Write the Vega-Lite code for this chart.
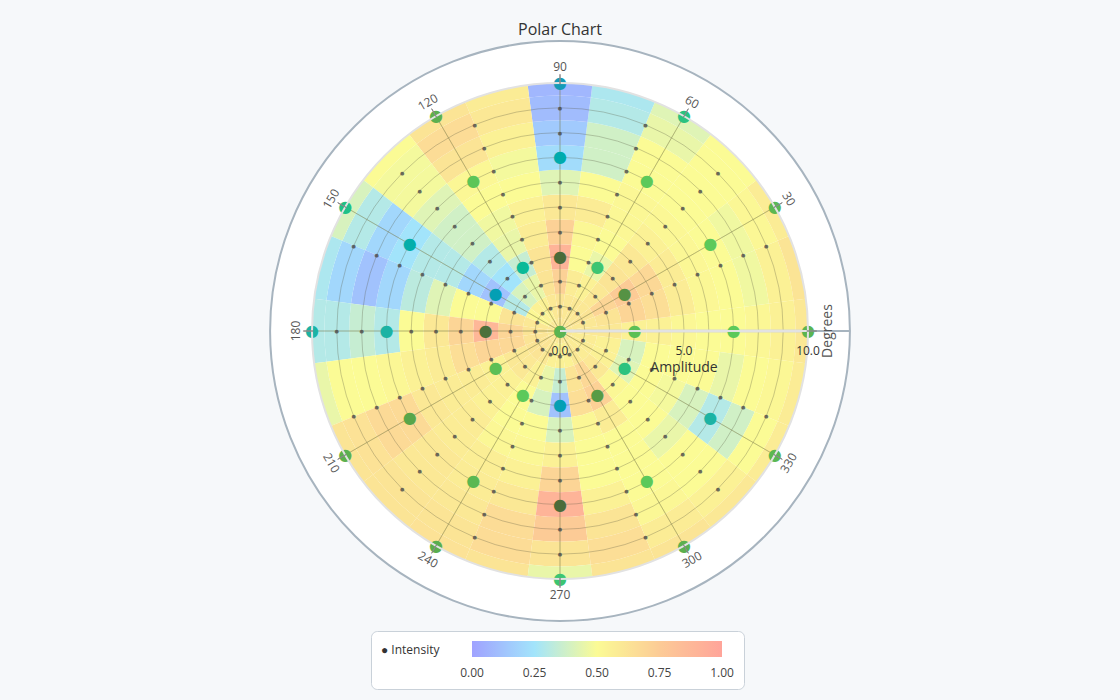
{
"$schema":"https://vega.github.io/schema/vega-lite/v6.json",
"width":1120,"height":580,
"autosize":{"type":"none"},
"padding":{"left":0,"right":0,"top":41,"bottom":79},
"background":"#f6f8fa",
"title":{"text":"Polar Chart","fontSize":16,"font":"Open Sans","fontWeight":"normal","color":"#333333","anchor":"middle","offset":-1},
"config":{"view":{"stroke":null},"font":"Open Sans"},
"datasets":{
"one":[{"k":1}],
"grid":[{"amp":1},{"amp":2},{"amp":3},{"amp":4},{"amp":5},{"amp":6},{"amp":7},{"amp":8},{"amp":9}],
"spokes":[{"deg":0},{"deg":30},{"deg":60},{"deg":90},{"deg":120},{"deg":150},{"deg":180},{"deg":210},{"deg":240},{"deg":270},{"deg":300},{"deg":330}],
"labelsTop":[{"deg":30,"label":"30"},{"deg":60,"label":"60"},{"deg":90,"label":"90"},{"deg":120,"label":"120"},{"deg":150,"label":"150"},{"deg":180,"label":"180"}],
"labelsBottom":[{"deg":210,"label":"210"},{"deg":240,"label":"240"},{"deg":270,"label":"270"},{"deg":300,"label":"300"},{"deg":330,"label":"330"}],
"radial":[{"amp":0,"label":"0.0"},{"amp":5,"label":"5.0"},{"amp":10,"label":"10.0"}],
"dots":[
{"deg":0,"amp":0,"v":0.6},
{"deg":0,"amp":3,"v":0.55},{"deg":0,"amp":7,"v":0.5},{"deg":0,"amp":10,"v":0.6},
{"deg":30,"amp":3,"v":0.75},{"deg":30,"amp":7,"v":0.5},{"deg":30,"amp":10,"v":0.58},
{"deg":60,"amp":3,"v":0.45},{"deg":60,"amp":7,"v":0.5},{"deg":60,"amp":10,"v":0.42},
{"deg":90,"amp":3,"v":0.9},{"deg":90,"amp":7,"v":0.22},{"deg":90,"amp":10,"v":0.08},
{"deg":120,"amp":3,"v":0.35},{"deg":120,"amp":7,"v":0.52},{"deg":120,"amp":10,"v":0.62},
{"deg":150,"amp":3,"v":0.12},{"deg":150,"amp":7,"v":0.25},{"deg":150,"amp":10,"v":0.4},
{"deg":180,"amp":3,"v":0.88},{"deg":180,"amp":7,"v":0.3},{"deg":180,"amp":10,"v":0.3},
{"deg":210,"amp":3,"v":0.55},{"deg":210,"amp":7,"v":0.67},{"deg":210,"amp":10,"v":0.62},
{"deg":240,"amp":3,"v":0.5},{"deg":240,"amp":7,"v":0.58},{"deg":240,"amp":10,"v":0.63},
{"deg":270,"amp":3,"v":0.12},{"deg":270,"amp":7,"v":0.9},{"deg":270,"amp":10,"v":0.45},
{"deg":300,"amp":3,"v":0.72},{"deg":300,"amp":7,"v":0.5},{"deg":300,"amp":10,"v":0.62},
{"deg":330,"amp":3,"v":0.42},{"deg":330,"amp":7,"v":0.3},{"deg":330,"amp":10,"v":0.58}
],
"small":[
{"deg":22.5,"amp":1},{"deg":22.5,"amp":2},{"deg":22.5,"amp":3},{"deg":22.5,"amp":4},{"deg":22.5,"amp":5},{"deg":22.5,"amp":6},{"deg":22.5,"amp":7},{"deg":22.5,"amp":8},{"deg":22.5,"amp":9},
{"deg":45,"amp":1},{"deg":45,"amp":2},{"deg":45,"amp":3},{"deg":45,"amp":4},{"deg":45,"amp":5},{"deg":45,"amp":6},{"deg":45,"amp":7},{"deg":45,"amp":8},{"deg":45,"amp":9},
{"deg":67.5,"amp":1},{"deg":67.5,"amp":2},{"deg":67.5,"amp":3},{"deg":67.5,"amp":4},{"deg":67.5,"amp":5},{"deg":67.5,"amp":6},{"deg":67.5,"amp":7},{"deg":67.5,"amp":8},{"deg":67.5,"amp":9},
{"deg":90,"amp":1},{"deg":90,"amp":2},{"deg":90,"amp":4},{"deg":90,"amp":5},{"deg":90,"amp":6},{"deg":90,"amp":8},{"deg":90,"amp":9},
{"deg":112.5,"amp":1},{"deg":112.5,"amp":2},{"deg":112.5,"amp":3},{"deg":112.5,"amp":4},{"deg":112.5,"amp":5},{"deg":112.5,"amp":6},{"deg":112.5,"amp":7},{"deg":112.5,"amp":8},{"deg":112.5,"amp":9},
{"deg":135,"amp":1},{"deg":135,"amp":2},{"deg":135,"amp":3},{"deg":135,"amp":4},{"deg":135,"amp":5},{"deg":135,"amp":6},{"deg":135,"amp":7},{"deg":135,"amp":8},{"deg":135,"amp":9},
{"deg":157.5,"amp":1},{"deg":157.5,"amp":2},{"deg":157.5,"amp":3},{"deg":157.5,"amp":4},{"deg":157.5,"amp":5},{"deg":157.5,"amp":6},{"deg":157.5,"amp":7},{"deg":157.5,"amp":8},{"deg":157.5,"amp":9},
{"deg":180,"amp":1},{"deg":180,"amp":2},{"deg":180,"amp":4},{"deg":180,"amp":5},{"deg":180,"amp":6},{"deg":180,"amp":8},{"deg":180,"amp":9},
{"deg":202.5,"amp":1},{"deg":202.5,"amp":2},{"deg":202.5,"amp":3},{"deg":202.5,"amp":4},{"deg":202.5,"amp":5},{"deg":202.5,"amp":6},{"deg":202.5,"amp":7},{"deg":202.5,"amp":8},{"deg":202.5,"amp":9},
{"deg":225,"amp":1},{"deg":225,"amp":2},{"deg":225,"amp":3},{"deg":225,"amp":4},{"deg":225,"amp":5},{"deg":225,"amp":6},{"deg":225,"amp":7},{"deg":225,"amp":8},{"deg":225,"amp":9},
{"deg":247.5,"amp":1},{"deg":247.5,"amp":2},{"deg":247.5,"amp":3},{"deg":247.5,"amp":4},{"deg":247.5,"amp":5},{"deg":247.5,"amp":6},{"deg":247.5,"amp":7},{"deg":247.5,"amp":8},{"deg":247.5,"amp":9},
{"deg":270,"amp":1},{"deg":270,"amp":2},{"deg":270,"amp":4},{"deg":270,"amp":5},{"deg":270,"amp":6},{"deg":270,"amp":8},{"deg":270,"amp":9},
{"deg":292.5,"amp":1},{"deg":292.5,"amp":2},{"deg":292.5,"amp":3},{"deg":292.5,"amp":4},{"deg":292.5,"amp":5},{"deg":292.5,"amp":6},{"deg":292.5,"amp":7},{"deg":292.5,"amp":8},{"deg":292.5,"amp":9},
{"deg":315,"amp":1},{"deg":315,"amp":2},{"deg":315,"amp":3},{"deg":315,"amp":4},{"deg":315,"amp":5},{"deg":315,"amp":6},{"deg":315,"amp":7},{"deg":315,"amp":8},{"deg":315,"amp":9},
{"deg":337.5,"amp":1},{"deg":337.5,"amp":2},{"deg":337.5,"amp":3},{"deg":337.5,"amp":4},{"deg":337.5,"amp":5},{"deg":337.5,"amp":6},{"deg":337.5,"amp":7},{"deg":337.5,"amp":8},{"deg":337.5,"amp":9}
],
"cells":[
{"t0":-7.5,"t1":7.5,"r0":0,"r1":0.5,"v":0.6},{"t0":-7.5,"t1":7.5,"r0":0.5,"r1":1.5,"v":0.6},{"t0":-7.5,"t1":7.5,"r0":1.5,"r1":2.5,"v":0.6},{"t0":-7.5,"t1":7.5,"r0":2.5,"r1":3.5,"v":0.55},{"t0":-7.5,"t1":7.5,"r0":3.5,"r1":4.5,"v":0.55},{"t0":-7.5,"t1":7.5,"r0":4.5,"r1":5.5,"v":0.52},{"t0":-7.5,"t1":7.5,"r0":5.5,"r1":6.5,"v":0.5},{"t0":-7.5,"t1":7.5,"r0":6.5,"r1":7.5,"v":0.5},{"t0":-7.5,"t1":7.5,"r0":7.5,"r1":8.5,"v":0.52},{"t0":-7.5,"t1":7.5,"r0":8.5,"r1":9.5,"v":0.55},{"t0":-7.5,"t1":7.5,"r0":9.5,"r1":10,"v":0.6},
{"t0":7.5,"t1":22.5,"r0":0,"r1":0.5,"v":0.6},{"t0":7.5,"t1":22.5,"r0":0.5,"r1":1.5,"v":0.6},{"t0":7.5,"t1":22.5,"r0":1.5,"r1":2.5,"v":0.62},{"t0":7.5,"t1":22.5,"r0":2.5,"r1":3.5,"v":0.7},{"t0":7.5,"t1":22.5,"r0":3.5,"r1":4.5,"v":0.65},{"t0":7.5,"t1":22.5,"r0":4.5,"r1":5.5,"v":0.58},{"t0":7.5,"t1":22.5,"r0":5.5,"r1":6.5,"v":0.52},{"t0":7.5,"t1":22.5,"r0":6.5,"r1":7.5,"v":0.5},{"t0":7.5,"t1":22.5,"r0":7.5,"r1":8.5,"v":0.47},{"t0":7.5,"t1":22.5,"r0":8.5,"r1":9.5,"v":0.55},{"t0":7.5,"t1":22.5,"r0":9.5,"r1":10,"v":0.62},
{"t0":22.5,"t1":37.5,"r0":0,"r1":0.5,"v":0.6},{"t0":22.5,"t1":37.5,"r0":0.5,"r1":1.5,"v":0.62},{"t0":22.5,"t1":37.5,"r0":1.5,"r1":2.5,"v":0.7},{"t0":22.5,"t1":37.5,"r0":2.5,"r1":3.5,"v":0.75},{"t0":22.5,"t1":37.5,"r0":3.5,"r1":4.5,"v":0.68},{"t0":22.5,"t1":37.5,"r0":4.5,"r1":5.5,"v":0.58},{"t0":22.5,"t1":37.5,"r0":5.5,"r1":6.5,"v":0.52},{"t0":22.5,"t1":37.5,"r0":6.5,"r1":7.5,"v":0.5},{"t0":22.5,"t1":37.5,"r0":7.5,"r1":8.5,"v":0.47},{"t0":22.5,"t1":37.5,"r0":8.5,"r1":9.5,"v":0.52},{"t0":22.5,"t1":37.5,"r0":9.5,"r1":10,"v":0.58},
{"t0":37.5,"t1":52.5,"r0":0,"r1":0.5,"v":0.6},{"t0":37.5,"t1":52.5,"r0":0.5,"r1":1.5,"v":0.6},{"t0":37.5,"t1":52.5,"r0":1.5,"r1":2.5,"v":0.6},{"t0":37.5,"t1":52.5,"r0":2.5,"r1":3.5,"v":0.62},{"t0":37.5,"t1":52.5,"r0":3.5,"r1":4.5,"v":0.6},{"t0":37.5,"t1":52.5,"r0":4.5,"r1":5.5,"v":0.55},{"t0":37.5,"t1":52.5,"r0":5.5,"r1":6.5,"v":0.52},{"t0":37.5,"t1":52.5,"r0":6.5,"r1":7.5,"v":0.5},{"t0":37.5,"t1":52.5,"r0":7.5,"r1":8.5,"v":0.5},{"t0":37.5,"t1":52.5,"r0":8.5,"r1":9.5,"v":0.5},{"t0":37.5,"t1":52.5,"r0":9.5,"r1":10,"v":0.5},
{"t0":52.5,"t1":67.5,"r0":0,"r1":0.5,"v":0.6},{"t0":52.5,"t1":67.5,"r0":0.5,"r1":1.5,"v":0.6},{"t0":52.5,"t1":67.5,"r0":1.5,"r1":2.5,"v":0.55},{"t0":52.5,"t1":67.5,"r0":2.5,"r1":3.5,"v":0.45},{"t0":52.5,"t1":67.5,"r0":3.5,"r1":4.5,"v":0.5},{"t0":52.5,"t1":67.5,"r0":4.5,"r1":5.5,"v":0.52},{"t0":52.5,"t1":67.5,"r0":5.5,"r1":6.5,"v":0.52},{"t0":52.5,"t1":67.5,"r0":6.5,"r1":7.5,"v":0.5},{"t0":52.5,"t1":67.5,"r0":7.5,"r1":8.5,"v":0.5},{"t0":52.5,"t1":67.5,"r0":8.5,"r1":9.5,"v":0.45},{"t0":52.5,"t1":67.5,"r0":9.5,"r1":10,"v":0.42},
{"t0":67.5,"t1":82.5,"r0":0,"r1":0.5,"v":0.6},{"t0":67.5,"t1":82.5,"r0":0.5,"r1":1.5,"v":0.6},{"t0":67.5,"t1":82.5,"r0":1.5,"r1":2.5,"v":0.58},{"t0":67.5,"t1":82.5,"r0":2.5,"r1":3.5,"v":0.5},{"t0":67.5,"t1":82.5,"r0":3.5,"r1":4.5,"v":0.52},{"t0":67.5,"t1":82.5,"r0":4.5,"r1":5.5,"v":0.58},{"t0":67.5,"t1":82.5,"r0":5.5,"r1":6.5,"v":0.5},{"t0":67.5,"t1":82.5,"r0":6.5,"r1":7.5,"v":0.38},{"t0":67.5,"t1":82.5,"r0":7.5,"r1":8.5,"v":0.38},{"t0":67.5,"t1":82.5,"r0":8.5,"r1":9.5,"v":0.3},{"t0":67.5,"t1":82.5,"r0":9.5,"r1":10,"v":0.28},
{"t0":82.5,"t1":97.5,"r0":0,"r1":0.5,"v":0.6},{"t0":82.5,"t1":97.5,"r0":0.5,"r1":1.5,"v":0.62},{"t0":82.5,"t1":97.5,"r0":1.5,"r1":2.5,"v":0.72},{"t0":82.5,"t1":97.5,"r0":2.5,"r1":3.5,"v":0.9},{"t0":82.5,"t1":97.5,"r0":3.5,"r1":4.5,"v":0.72},{"t0":82.5,"t1":97.5,"r0":4.5,"r1":5.5,"v":0.6},{"t0":82.5,"t1":97.5,"r0":5.5,"r1":6.5,"v":0.42},{"t0":82.5,"t1":97.5,"r0":6.5,"r1":7.5,"v":0.22},{"t0":82.5,"t1":97.5,"r0":7.5,"r1":8.5,"v":0.15},{"t0":82.5,"t1":97.5,"r0":8.5,"r1":9.5,"v":0.1},{"t0":82.5,"t1":97.5,"r0":9.5,"r1":10,"v":0.08},
{"t0":97.5,"t1":112.5,"r0":0,"r1":0.5,"v":0.6},{"t0":97.5,"t1":112.5,"r0":0.5,"r1":1.5,"v":0.6},{"t0":97.5,"t1":112.5,"r0":1.5,"r1":2.5,"v":0.62},{"t0":97.5,"t1":112.5,"r0":2.5,"r1":3.5,"v":0.62},{"t0":97.5,"t1":112.5,"r0":3.5,"r1":4.5,"v":0.58},{"t0":97.5,"t1":112.5,"r0":4.5,"r1":5.5,"v":0.55},{"t0":97.5,"t1":112.5,"r0":5.5,"r1":6.5,"v":0.5},{"t0":97.5,"t1":112.5,"r0":6.5,"r1":7.5,"v":0.48},{"t0":97.5,"t1":112.5,"r0":7.5,"r1":8.5,"v":0.55},{"t0":97.5,"t1":112.5,"r0":8.5,"r1":9.5,"v":0.6},{"t0":97.5,"t1":112.5,"r0":9.5,"r1":10,"v":0.58},
{"t0":112.5,"t1":127.5,"r0":0,"r1":0.5,"v":0.6},{"t0":112.5,"t1":127.5,"r0":0.5,"r1":1.5,"v":0.55},{"t0":112.5,"t1":127.5,"r0":1.5,"r1":2.5,"v":0.45},{"t0":112.5,"t1":127.5,"r0":2.5,"r1":3.5,"v":0.35},{"t0":112.5,"t1":127.5,"r0":3.5,"r1":4.5,"v":0.45},{"t0":112.5,"t1":127.5,"r0":4.5,"r1":5.5,"v":0.47},{"t0":112.5,"t1":127.5,"r0":5.5,"r1":6.5,"v":0.5},{"t0":112.5,"t1":127.5,"r0":6.5,"r1":7.5,"v":0.52},{"t0":112.5,"t1":127.5,"r0":7.5,"r1":8.5,"v":0.62},{"t0":112.5,"t1":127.5,"r0":8.5,"r1":9.5,"v":0.66},{"t0":112.5,"t1":127.5,"r0":9.5,"r1":10,"v":0.62},
{"t0":127.5,"t1":142.5,"r0":0,"r1":0.5,"v":0.6},{"t0":127.5,"t1":142.5,"r0":0.5,"r1":1.5,"v":0.55},{"t0":127.5,"t1":142.5,"r0":1.5,"r1":2.5,"v":0.4},{"t0":127.5,"t1":142.5,"r0":2.5,"r1":3.5,"v":0.25},{"t0":127.5,"t1":142.5,"r0":3.5,"r1":4.5,"v":0.3},{"t0":127.5,"t1":142.5,"r0":4.5,"r1":5.5,"v":0.38},{"t0":127.5,"t1":142.5,"r0":5.5,"r1":6.5,"v":0.38},{"t0":127.5,"t1":142.5,"r0":6.5,"r1":7.5,"v":0.42},{"t0":127.5,"t1":142.5,"r0":7.5,"r1":8.5,"v":0.48},{"t0":127.5,"t1":142.5,"r0":8.5,"r1":9.5,"v":0.48},{"t0":127.5,"t1":142.5,"r0":9.5,"r1":10,"v":0.5},
{"t0":142.5,"t1":157.5,"r0":0,"r1":0.5,"v":0.6},{"t0":142.5,"t1":157.5,"r0":0.5,"r1":1.5,"v":0.52},{"t0":142.5,"t1":157.5,"r0":1.5,"r1":2.5,"v":0.3},{"t0":142.5,"t1":157.5,"r0":2.5,"r1":3.5,"v":0.12},{"t0":142.5,"t1":157.5,"r0":3.5,"r1":4.5,"v":0.2},{"t0":142.5,"t1":157.5,"r0":4.5,"r1":5.5,"v":0.3},{"t0":142.5,"t1":157.5,"r0":5.5,"r1":6.5,"v":0.3},{"t0":142.5,"t1":157.5,"r0":6.5,"r1":7.5,"v":0.25},{"t0":142.5,"t1":157.5,"r0":7.5,"r1":8.5,"v":0.2},{"t0":142.5,"t1":157.5,"r0":8.5,"r1":9.5,"v":0.3},{"t0":142.5,"t1":157.5,"r0":9.5,"r1":10,"v":0.4},
{"t0":157.5,"t1":172.5,"r0":0,"r1":0.5,"v":0.6},{"t0":157.5,"t1":172.5,"r0":0.5,"r1":1.5,"v":0.6},{"t0":157.5,"t1":172.5,"r0":1.5,"r1":2.5,"v":0.62},{"t0":157.5,"t1":172.5,"r0":2.5,"r1":3.5,"v":0.5},{"t0":157.5,"t1":172.5,"r0":3.5,"r1":4.5,"v":0.5},{"t0":157.5,"t1":172.5,"r0":4.5,"r1":5.5,"v":0.42},{"t0":157.5,"t1":172.5,"r0":5.5,"r1":6.5,"v":0.32},{"t0":157.5,"t1":172.5,"r0":6.5,"r1":7.5,"v":0.2},{"t0":157.5,"t1":172.5,"r0":7.5,"r1":8.5,"v":0.12},{"t0":157.5,"t1":172.5,"r0":8.5,"r1":9.5,"v":0.2},{"t0":157.5,"t1":172.5,"r0":9.5,"r1":10,"v":0.28},
{"t0":172.5,"t1":187.5,"r0":0,"r1":0.5,"v":0.6},{"t0":172.5,"t1":187.5,"r0":0.5,"r1":1.5,"v":0.62},{"t0":172.5,"t1":187.5,"r0":1.5,"r1":2.5,"v":0.7},{"t0":172.5,"t1":187.5,"r0":2.5,"r1":3.5,"v":0.88},{"t0":172.5,"t1":187.5,"r0":3.5,"r1":4.5,"v":0.7},{"t0":172.5,"t1":187.5,"r0":4.5,"r1":5.5,"v":0.6},{"t0":172.5,"t1":187.5,"r0":5.5,"r1":6.5,"v":0.5},{"t0":172.5,"t1":187.5,"r0":6.5,"r1":7.5,"v":0.3},{"t0":172.5,"t1":187.5,"r0":7.5,"r1":8.5,"v":0.35},{"t0":172.5,"t1":187.5,"r0":8.5,"r1":9.5,"v":0.3},{"t0":172.5,"t1":187.5,"r0":9.5,"r1":10,"v":0.3},
{"t0":187.5,"t1":202.5,"r0":0,"r1":0.5,"v":0.6},{"t0":187.5,"t1":202.5,"r0":0.5,"r1":1.5,"v":0.62},{"t0":187.5,"t1":202.5,"r0":1.5,"r1":2.5,"v":0.68},{"t0":187.5,"t1":202.5,"r0":2.5,"r1":3.5,"v":0.7},{"t0":187.5,"t1":202.5,"r0":3.5,"r1":4.5,"v":0.65},{"t0":187.5,"t1":202.5,"r0":4.5,"r1":5.5,"v":0.58},{"t0":187.5,"t1":202.5,"r0":5.5,"r1":6.5,"v":0.55},{"t0":187.5,"t1":202.5,"r0":6.5,"r1":7.5,"v":0.52},{"t0":187.5,"t1":202.5,"r0":7.5,"r1":8.5,"v":0.5},{"t0":187.5,"t1":202.5,"r0":8.5,"r1":9.5,"v":0.5},{"t0":187.5,"t1":202.5,"r0":9.5,"r1":10,"v":0.45},
{"t0":202.5,"t1":217.5,"r0":0,"r1":0.5,"v":0.6},{"t0":202.5,"t1":217.5,"r0":0.5,"r1":1.5,"v":0.62},{"t0":202.5,"t1":217.5,"r0":1.5,"r1":2.5,"v":0.6},{"t0":202.5,"t1":217.5,"r0":2.5,"r1":3.5,"v":0.55},{"t0":202.5,"t1":217.5,"r0":3.5,"r1":4.5,"v":0.58},{"t0":202.5,"t1":217.5,"r0":4.5,"r1":5.5,"v":0.58},{"t0":202.5,"t1":217.5,"r0":5.5,"r1":6.5,"v":0.6},{"t0":202.5,"t1":217.5,"r0":6.5,"r1":7.5,"v":0.67},{"t0":202.5,"t1":217.5,"r0":7.5,"r1":8.5,"v":0.67},{"t0":202.5,"t1":217.5,"r0":8.5,"r1":9.5,"v":0.63},{"t0":202.5,"t1":217.5,"r0":9.5,"r1":10,"v":0.62},
{"t0":217.5,"t1":232.5,"r0":0,"r1":0.5,"v":0.6},{"t0":217.5,"t1":232.5,"r0":0.5,"r1":1.5,"v":0.62},{"t0":217.5,"t1":232.5,"r0":1.5,"r1":2.5,"v":0.6},{"t0":217.5,"t1":232.5,"r0":2.5,"r1":3.5,"v":0.55},{"t0":217.5,"t1":232.5,"r0":3.5,"r1":4.5,"v":0.55},{"t0":217.5,"t1":232.5,"r0":4.5,"r1":5.5,"v":0.58},{"t0":217.5,"t1":232.5,"r0":5.5,"r1":6.5,"v":0.58},{"t0":217.5,"t1":232.5,"r0":6.5,"r1":7.5,"v":0.6},{"t0":217.5,"t1":232.5,"r0":7.5,"r1":8.5,"v":0.6},{"t0":217.5,"t1":232.5,"r0":8.5,"r1":9.5,"v":0.62},{"t0":217.5,"t1":232.5,"r0":9.5,"r1":10,"v":0.62},
{"t0":232.5,"t1":247.5,"r0":0,"r1":0.5,"v":0.6},{"t0":232.5,"t1":247.5,"r0":0.5,"r1":1.5,"v":0.6},{"t0":232.5,"t1":247.5,"r0":1.5,"r1":2.5,"v":0.55},{"t0":232.5,"t1":247.5,"r0":2.5,"r1":3.5,"v":0.5},{"t0":232.5,"t1":247.5,"r0":3.5,"r1":4.5,"v":0.5},{"t0":232.5,"t1":247.5,"r0":4.5,"r1":5.5,"v":0.52},{"t0":232.5,"t1":247.5,"r0":5.5,"r1":6.5,"v":0.57},{"t0":232.5,"t1":247.5,"r0":6.5,"r1":7.5,"v":0.58},{"t0":232.5,"t1":247.5,"r0":7.5,"r1":8.5,"v":0.6},{"t0":232.5,"t1":247.5,"r0":8.5,"r1":9.5,"v":0.62},{"t0":232.5,"t1":247.5,"r0":9.5,"r1":10,"v":0.63},
{"t0":247.5,"t1":262.5,"r0":0,"r1":0.5,"v":0.6},{"t0":247.5,"t1":262.5,"r0":0.5,"r1":1.5,"v":0.55},{"t0":247.5,"t1":262.5,"r0":1.5,"r1":2.5,"v":0.45},{"t0":247.5,"t1":262.5,"r0":2.5,"r1":3.5,"v":0.4},{"t0":247.5,"t1":262.5,"r0":3.5,"r1":4.5,"v":0.5},{"t0":247.5,"t1":262.5,"r0":4.5,"r1":5.5,"v":0.52},{"t0":247.5,"t1":262.5,"r0":5.5,"r1":6.5,"v":0.55},{"t0":247.5,"t1":262.5,"r0":6.5,"r1":7.5,"v":0.6},{"t0":247.5,"t1":262.5,"r0":7.5,"r1":8.5,"v":0.66},{"t0":247.5,"t1":262.5,"r0":8.5,"r1":9.5,"v":0.66},{"t0":247.5,"t1":262.5,"r0":9.5,"r1":10,"v":0.62},
{"t0":262.5,"t1":277.5,"r0":0,"r1":0.5,"v":0.6},{"t0":262.5,"t1":277.5,"r0":0.5,"r1":1.5,"v":0.55},{"t0":262.5,"t1":277.5,"r0":1.5,"r1":2.5,"v":0.35},{"t0":262.5,"t1":277.5,"r0":2.5,"r1":3.5,"v":0.12},{"t0":262.5,"t1":277.5,"r0":3.5,"r1":4.5,"v":0.4},{"t0":262.5,"t1":277.5,"r0":4.5,"r1":5.5,"v":0.55},{"t0":262.5,"t1":277.5,"r0":5.5,"r1":6.5,"v":0.7},{"t0":262.5,"t1":277.5,"r0":6.5,"r1":7.5,"v":0.9},{"t0":262.5,"t1":277.5,"r0":7.5,"r1":8.5,"v":0.75},{"t0":262.5,"t1":277.5,"r0":8.5,"r1":9.5,"v":0.62},{"t0":262.5,"t1":277.5,"r0":9.5,"r1":10,"v":0.45},
{"t0":277.5,"t1":292.5,"r0":0,"r1":0.5,"v":0.6},{"t0":277.5,"t1":292.5,"r0":0.5,"r1":1.5,"v":0.55},{"t0":277.5,"t1":292.5,"r0":1.5,"r1":2.5,"v":0.62},{"t0":277.5,"t1":292.5,"r0":2.5,"r1":3.5,"v":0.65},{"t0":277.5,"t1":292.5,"r0":3.5,"r1":4.5,"v":0.52},{"t0":277.5,"t1":292.5,"r0":4.5,"r1":5.5,"v":0.5},{"t0":277.5,"t1":292.5,"r0":5.5,"r1":6.5,"v":0.5},{"t0":277.5,"t1":292.5,"r0":6.5,"r1":7.5,"v":0.55},{"t0":277.5,"t1":292.5,"r0":7.5,"r1":8.5,"v":0.62},{"t0":277.5,"t1":292.5,"r0":8.5,"r1":9.5,"v":0.65},{"t0":277.5,"t1":292.5,"r0":9.5,"r1":10,"v":0.62},
{"t0":292.5,"t1":307.5,"r0":0,"r1":0.5,"v":0.6},{"t0":292.5,"t1":307.5,"r0":0.5,"r1":1.5,"v":0.6},{"t0":292.5,"t1":307.5,"r0":1.5,"r1":2.5,"v":0.68},{"t0":292.5,"t1":307.5,"r0":2.5,"r1":3.5,"v":0.72},{"t0":292.5,"t1":307.5,"r0":3.5,"r1":4.5,"v":0.58},{"t0":292.5,"t1":307.5,"r0":4.5,"r1":5.5,"v":0.5},{"t0":292.5,"t1":307.5,"r0":5.5,"r1":6.5,"v":0.5},{"t0":292.5,"t1":307.5,"r0":6.5,"r1":7.5,"v":0.5},{"t0":292.5,"t1":307.5,"r0":7.5,"r1":8.5,"v":0.52},{"t0":292.5,"t1":307.5,"r0":8.5,"r1":9.5,"v":0.58},{"t0":292.5,"t1":307.5,"r0":9.5,"r1":10,"v":0.62},
{"t0":307.5,"t1":322.5,"r0":0,"r1":0.5,"v":0.6},{"t0":307.5,"t1":322.5,"r0":0.5,"r1":1.5,"v":0.58},{"t0":307.5,"t1":322.5,"r0":1.5,"r1":2.5,"v":0.6},{"t0":307.5,"t1":322.5,"r0":2.5,"r1":3.5,"v":0.52},{"t0":307.5,"t1":322.5,"r0":3.5,"r1":4.5,"v":0.5},{"t0":307.5,"t1":322.5,"r0":4.5,"r1":5.5,"v":0.5},{"t0":307.5,"t1":322.5,"r0":5.5,"r1":6.5,"v":0.45},{"t0":307.5,"t1":322.5,"r0":6.5,"r1":7.5,"v":0.5},{"t0":307.5,"t1":322.5,"r0":7.5,"r1":8.5,"v":0.5},{"t0":307.5,"t1":322.5,"r0":8.5,"r1":9.5,"v":0.55},{"t0":307.5,"t1":322.5,"r0":9.5,"r1":10,"v":0.6},
{"t0":322.5,"t1":337.5,"r0":0,"r1":0.5,"v":0.6},{"t0":322.5,"t1":337.5,"r0":0.5,"r1":1.5,"v":0.58},{"t0":322.5,"t1":337.5,"r0":1.5,"r1":2.5,"v":0.55},{"t0":322.5,"t1":337.5,"r0":2.5,"r1":3.5,"v":0.42},{"t0":322.5,"t1":337.5,"r0":3.5,"r1":4.5,"v":0.5},{"t0":322.5,"t1":337.5,"r0":4.5,"r1":5.5,"v":0.48},{"t0":322.5,"t1":337.5,"r0":5.5,"r1":6.5,"v":0.4},{"t0":322.5,"t1":337.5,"r0":6.5,"r1":7.5,"v":0.3},{"t0":322.5,"t1":337.5,"r0":7.5,"r1":8.5,"v":0.38},{"t0":322.5,"t1":337.5,"r0":8.5,"r1":9.5,"v":0.5},{"t0":322.5,"t1":337.5,"r0":9.5,"r1":10,"v":0.58},
{"t0":337.5,"t1":352.5,"r0":0,"r1":0.5,"v":0.6},{"t0":337.5,"t1":352.5,"r0":0.5,"r1":1.5,"v":0.58},{"t0":337.5,"t1":352.5,"r0":1.5,"r1":2.5,"v":0.55},{"t0":337.5,"t1":352.5,"r0":2.5,"r1":3.5,"v":0.4},{"t0":337.5,"t1":352.5,"r0":3.5,"r1":4.5,"v":0.5},{"t0":337.5,"t1":352.5,"r0":4.5,"r1":5.5,"v":0.5},{"t0":337.5,"t1":352.5,"r0":5.5,"r1":6.5,"v":0.5},{"t0":337.5,"t1":352.5,"r0":6.5,"r1":7.5,"v":0.45},{"t0":337.5,"t1":352.5,"r0":7.5,"r1":8.5,"v":0.5},{"t0":337.5,"t1":352.5,"r0":8.5,"r1":9.5,"v":0.52},{"t0":337.5,"t1":352.5,"r0":9.5,"r1":10,"v":0.58}
]
},
"layer":[
{"data":{"name":"one"},"mark":{"type":"arc","fill":"#ffffff","stroke":"#a7b4bf","strokeWidth":2},
 "encoding":{"theta":{"datum":0,"type":"quantitative","scale":{"type":"linear","domain":[0,360],"range":[1.5707963,-4.712389]}},"theta2":{"datum":360},
 "radius":{"datum":11.69,"type":"quantitative","scale":{"type":"linear","domain":[0,10],"range":[0,248],"nice":false}},"radius2":{"datum":0}}},
{"data":{"name":"cells"},"mark":{"type":"arc","stroke":null},
 "encoding":{"theta":{"field":"t0","type":"quantitative","stack":null},"theta2":{"field":"t1"},
 "radius":{"field":"r1","type":"quantitative"},"radius2":{"field":"r0"},
 "color":{"field":"v","type":"quantitative","title":"● Intensity","scale":{"type":"linear","domain":[0,0.25,0.5,0.75,1],"range":["#a0a2ff","#a2e4fb","#fbfb95","#fccb96","#ffa49a"],"interpolate":"rgb"},
  "legend":{"type":"gradient","orient":"none","legendX":371,"legendY":590,"direction":"horizontal","gradientLength":250,"gradientThickness":16,"titleOrient":"left","titleFontSize":12,"titleFontWeight":"normal","titleColor":"#333333","titleFont":"Open Sans","titleBaseline":"line-top","titleLineHeight":14,"labelFont":"Open Sans","labelFontSize":12,"labelColor":"#444444","labelAlign":"center","values":[0,0.25,0.5,0.75,1],"format":".2f","padding":10,"strokeColor":"#c9d1d9","fillColor":"#ffffff","cornerRadius":6,"titlePadding":32,"labelOffset":11,"labelOverlap":false,"gradientStrokeWidth":0,
  "encode":{"labels":{"update":{"align":{"value":"center"}}}}}}}},
{"data":{"name":"grid"},"mark":{"type":"arc","filled":false,"stroke":"#55553f","strokeOpacity":0.3,"strokeWidth":1},
 "encoding":{"theta":{"datum":0,"type":"quantitative"},"theta2":{"datum":360},"radius":{"field":"amp","type":"quantitative"},"radius2":{"datum":0}}},
{"data":{"name":"spokes"},"transform":[{"filter":"datum.deg > 0"}],"mark":{"type":"arc","filled":false,"stroke":"#7a7a48","strokeOpacity":0.3,"strokeWidth":1},
 "encoding":{"theta":{"field":"deg","type":"quantitative","stack":null},"theta2":{"field":"deg"},"radius":{"datum":10,"type":"quantitative"},"radius2":{"datum":0}}},
{"data":{"name":"one"},"mark":{"type":"arc","filled":false,"stroke":"#d8d8d8","strokeWidth":3},
 "encoding":{"theta":{"datum":0,"type":"quantitative"},"theta2":{"datum":0},"radius":{"datum":10,"type":"quantitative"},"radius2":{"datum":0}}},
{"data":{"name":"small"},"mark":{"type":"text","text":"●","font":"DejaVu Sans","fontSize":5,"color":"#4a4a4a","opacity":0.8,"align":"center","baseline":"middle"},
 "encoding":{"theta":{"field":"deg","type":"quantitative","stack":null},"radius":{"field":"amp","type":"quantitative"}}},
{"data":{"name":"dots"},"mark":{"type":"text","text":"●","font":"DejaVu Sans","fontSize":16,"align":"center","baseline":"middle"},
 "encoding":{"theta":{"field":"deg","type":"quantitative","stack":null},"radius":{"field":"amp","type":"quantitative"},
 "fill":{"field":"v","type":"quantitative","scale":{"domain":[0.1,0.3,0.5,0.7,0.9],"range":["#0e9db5","#1cb3a4","#5cc95a","#58a048","#4b6b3a"]},"legend":null}}},
{"data":{"name":"one"},"mark":{"type":"arc","filled":false,"stroke":"#e2e2e2","strokeWidth":2},
 "encoding":{"theta":{"datum":0,"type":"quantitative"},"theta2":{"datum":360},"radius":{"datum":10,"type":"quantitative"},"radius2":{"datum":0}}},
{"data":{"name":"spokes"},"mark":{"type":"arc","filled":false,"stroke":"#8a8a8a","strokeWidth":1},
 "encoding":{"theta":{"field":"deg","type":"quantitative","stack":null},"theta2":{"field":"deg"},"radius":{"datum":10.35,"type":"quantitative"},"radius2":{"datum":9.95}}},
{"data":{"name":"labelsTop"},"mark":{"type":"text","font":"Open Sans","fontSize":12,"color":"#555555","align":"center","baseline":"middle"},
 "encoding":{"theta":{"field":"deg","type":"quantitative","stack":null},"radius":{"datum":10.65,"type":"quantitative"},"text":{"field":"label"},
 "angle":{"field":"deg","type":"quantitative","scale":{"domain":[0,180],"range":[90,-90]}}}},
{"data":{"name":"labelsBottom"},"mark":{"type":"text","font":"Open Sans","fontSize":12,"color":"#555555","align":"center","baseline":"middle"},
 "encoding":{"theta":{"field":"deg","type":"quantitative","stack":null},"radius":{"datum":10.65,"type":"quantitative"},"text":{"field":"label"},
 "angle":{"field":"deg","type":"quantitative","scale":{"domain":[180,360],"range":[90,-90]}}}},
{"data":{"name":"one"},"mark":{"type":"text","text":"Degrees","font":"Open Sans","fontSize":14,"color":"#555555","align":"center","baseline":"middle","angle":270},
 "encoding":{"theta":{"datum":0,"type":"quantitative"},"radius":{"datum":10.8,"type":"quantitative"}}},
{"data":{"name":"radial"},"mark":{"type":"text","font":"Open Sans","fontSize":12,"color":"#333333","align":"center","baseline":"middle","dy":20},
 "encoding":{"theta":{"datum":0,"type":"quantitative"},"radius":{"field":"amp","type":"quantitative"},"text":{"field":"label"}}},
{"data":{"name":"one"},"mark":{"type":"text","text":"Amplitude","font":"Open Sans","fontSize":14,"color":"#333333","align":"center","baseline":"middle","dy":37},
 "encoding":{"theta":{"datum":0,"type":"quantitative"},"radius":{"datum":5,"type":"quantitative"}}}
],
"resolve":{"scale":{"angle":"independent","fill":"independent"}}
}
